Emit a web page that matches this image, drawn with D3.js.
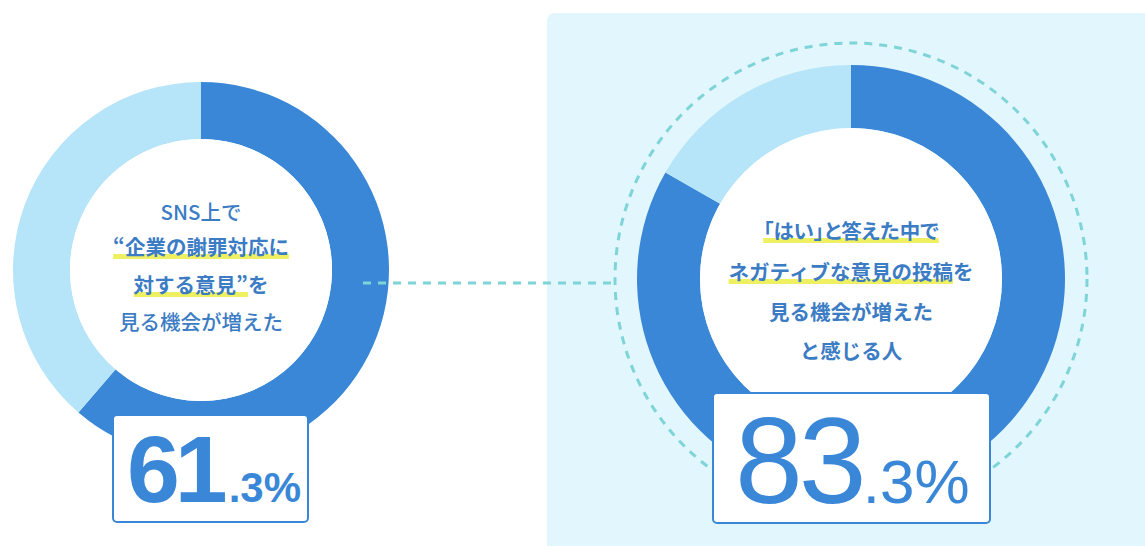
<!DOCTYPE html>
<html lang="ja">
<head>
    <meta charset="utf-8">
    <title>SNS donut charts</title>
    <script src="https://cdn.jsdelivr.net/npm/d3@7"></script>
    <style>
        html, body { margin: 0; padding: 0; background: #fff; }
        svg { display: block; }
    </style>
</head>
<body>
<script>
    // values
    var shares = [61.3, 83.3];
    var bigParts = ["61", "83"];
    var smallParts = [".3%", ".3%"];
    // each line: segments of [text, highlighted], and whether bold
    var leftLines = [
        { bold: false, segs: [["SNS上で", false]] },
        { bold: true, segs: [["“企業の謝罪対応に", true]] },
        { bold: true, segs: [["対する意見”", true], ["を", false]] },
        { bold: false, segs: [["見る機会が増えた", false]] }
    ];
    var rightLines = [
        { bold: true, palt: true, segs: [["「はい」と答えた中で", true]] },
        { bold: true, segs: [["ネガティブな意見の投稿", true], ["を", false]] },
        { bold: true, segs: [["見る機会が増えた", false]] },
        { bold: true, segs: [["と感じる人", false]] }
    ];

    var w = 1145, h = 546;
    var dark = "#3a87d8", light = "#b6e4f8", textBlue = "#3b7cc4",
        teal = "#7fd4d8", yellow = "#eef062", panel = "#e1f6fd";

    var svg = d3.select("body").append("svg")
        .attr("width", w)
        .attr("height", h);

    // light panel behind the right chart
    svg.append("rect")
        .attr("x", 547).attr("y", 13)
        .attr("width", 620).attr("height", 560)
        .attr("rx", 8)
        .attr("fill", panel);

    var charts = [
        { cx: 201, cy: 270, r: 188, ri: 131, lines: leftLines, lineY: [213, 248, 286, 323],
          box: [113, 415, 195, 107], big: 95, small: 42, bigW: 700, bigLs: -5, gap: 6, numX: 127, numY: 502 },
        { cx: 851, cy: 279, r: 214, ri: 151, lines: rightLines, lineY: [232, 273, 313, 352],
          box: [713, 393, 277, 130], big: 122, small: 62, bigW: 500, bigLs: -4, gap: 0, numX: 735, numY: 503 }
    ];

    var pie = d3.pie().sort(null).value(function(d) { return d; });

    // dashed ring around the right chart
    svg.append("circle")
        .attr("cx", charts[1].cx).attr("cy", charts[1].cy)
        .attr("r", 236)
        .attr("fill", "none")
        .attr("stroke", teal)
        .attr("stroke-width", 3)
        .attr("stroke-dasharray", "8,7");

    charts.forEach(function(c, i) {
        var g = svg.append("g").attr("transform", "translate(" + c.cx + "," + c.cy + ")");
        var arc = d3.arc().innerRadius(c.ri).outerRadius(c.r);
        g.selectAll("path")
            .data(pie([shares[i], 100 - shares[i]]))
            .enter()
            .append("path")
            .attr("d", arc)
            .attr("fill", function(d, j) { return j === 0 ? dark : light; });
        g.append("circle").attr("r", c.ri).attr("fill", "#fff");
    });

    // connector from left chart to right dashed ring
    svg.append("line")
        .attr("x1", 363).attr("x2", 614)
        .attr("y1", 283).attr("y2", 283)
        .attr("stroke", teal)
        .attr("stroke-width", 3)
        .attr("stroke-dasharray", "8,7");

    charts.forEach(function(c, i) {
        var hlLayer = svg.append("g");
        c.lines.forEach(function(line, k) {
            var t = svg.append("text")
                .attr("x", c.cx)
                .attr("y", c.lineY[k])
                .attr("dy", "0.35em")
                .attr("text-anchor", "middle")
                .attr("font-family", "'Noto Sans CJK JP', sans-serif")
                .attr("font-size", "20.5px")
                .attr("font-weight", line.bold ? 700 : 500)
                .style("font-feature-settings", line.palt ? "'palt'" : null)
                .attr("fill", textBlue);
            line.segs.forEach(function(s) { t.append("tspan").text(s[0]); });

            // yellow marker under highlighted parts
            var idx = 0, node = t.node();
            line.segs.forEach(function(s) {
                var n = s[0].length;
                if (s[1]) {
                    var x0 = node.getStartPositionOfChar(idx).x;
                    var x1 = node.getEndPositionOfChar(idx + n - 1).x;
                    hlLayer.append("rect")
                        .attr("x", x0).attr("y", c.lineY[k] + 6)
                        .attr("width", x1 - x0).attr("height", 5)
                        .attr("fill", yellow);
                }
                idx += n;
            });
        });

        // percentage box
        svg.append("rect")
            .attr("x", c.box[0]).attr("y", c.box[1])
            .attr("width", c.box[2]).attr("height", c.box[3])
            .attr("rx", 4)
            .attr("fill", "#fff")
            .attr("stroke", dark)
            .attr("stroke-width", 2);

        var num = svg.append("text")
            .attr("x", c.numX).attr("y", c.numY)
            .attr("font-family", "'Liberation Sans', Arial, sans-serif")
            .attr("fill", dark);
        num.append("tspan")
            .attr("font-size", c.big + "px")
            .attr("font-weight", c.bigW)
            .attr("letter-spacing", c.bigLs + "px")
            .text(bigParts[i]);
        num.append("tspan")
            .attr("dx", c.gap + "px")
            .attr("font-size", c.small + "px")
            .attr("font-weight", c.bigW)
            .text(smallParts[i]);
    });
</script>
</body>
</html>
